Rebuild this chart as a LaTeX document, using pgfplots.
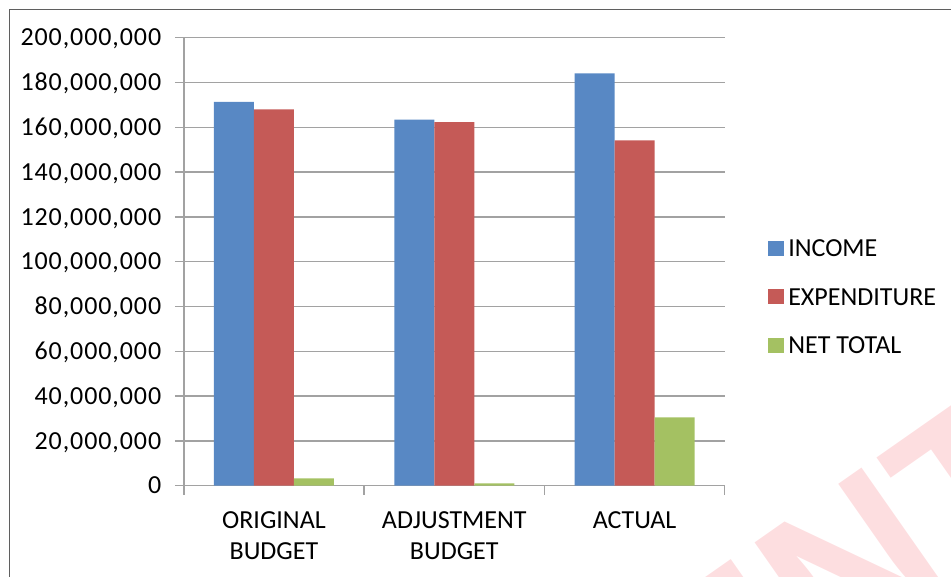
\documentclass[border=0pt]{standalone}
\usepackage{fontspec}
\setmainfont{Carlito}
\newfontfamily\markfont{Liberation Sans}
\usepackage{pgfplots}
\usepackage{pgfplotstable}
\pgfplotsset{compat=1.18}

\definecolor{incblue}{RGB}{88,136,196}
\definecolor{expred}{RGB}{197,90,87}
\definecolor{netgreen}{RGB}{164,193,98}
\definecolor{gridgray}{RGB}{162,162,162}
\definecolor{framegray}{RGB}{95,95,95}
\definecolor{markpink}{RGB}{253,222,224}

% budget figures per category: 0 original, 1 adjustment, 2 actual
\pgfplotstableread{
cat income expenditure net
0 171400000 168000000 3300000
1 163400000 162300000 1000000
2 184100000 154200000 30500000
}\budget

\begin{document}
\begin{tikzpicture}
\begin{scope}[x=0.75pt,y=0.75pt]
  \useasboundingbox (0,0) rectangle (951,576);
  \clip (0,0) rectangle (951,576);
  \node[anchor=base west, inner sep=0pt, rotate=35, text=markpink,
        font=\markfont\bfseries\fontsize{166.5}{166.5}\selectfont]
        at (780.2,-136) {INT};
  \draw[framegray, line width=1.1pt] (9.5,-20) -- (9.5,566.5) -- (1000,566.5);
\end{scope}
\begin{axis}[
  at={(137.85pt,67.725pt)}, anchor=south west,
  scale only axis, width=405.7pt, height=336pt,
  xmin=-0.5, xmax=2.5, ymin=0, ymax=200000000,
  axis x line*=bottom, axis y line*=left,
  axis line style={gridgray, line width=1.1pt},
  tick align=outside, major tick length=6.75pt,
  tick style={gridgray, line width=1.1pt},
  ymajorgrids, grid style={gridgray, line width=1.1pt},
  ytick={0,20000000,40000000,60000000,80000000,100000000,120000000,140000000,160000000,180000000,200000000},
  scaled y ticks=false,
  ticklabel style={font=\fontsize{19.5}{23.25}\selectfont},
  yticklabel style={/pgf/number format/.cd, fixed, precision=0, 1000 sep={,}, assume math mode=true,
    /tikz/.cd, anchor=east, inner sep=0pt, text height=12.3pt, text depth=0pt, xshift=-10pt,
    font=\fontsize{19.5}{23.25}\selectfont\addfontfeature{LetterSpace=3.5}},
  xtick={-0.5,0.5,1.5,2.5}, xticklabels={},
  extra x ticks={0,1,2},
  extra x tick labels={{ORIGINAL\\BUDGET},{ADJUSTMENT\\BUDGET},{ACTUAL}},
  extra x tick style={major tick length=0pt, tick style={draw=none},
    xticklabel style={align=center, anchor=north, inner sep=0pt, yshift=-19.5pt}},
  legend style={at={(1.080,0.4219)}, anchor=west, draw=none, fill=none, inner sep=0pt,
    row sep=23.8pt, font=\fontsize{19.5}{23.25}\selectfont,
    nodes={inner xsep=3pt, inner ysep=0pt, text height=12.6pt, text depth=0pt}},
  legend cell align=left,
  legend image code/.code={\fill[#1] (0pt,-5.6pt) rectangle (12pt,5.6pt);},
]
\addplot[ybar, bar width=30pt, bar shift=-30pt, fill=incblue, draw=none]
  table[x=cat, y=income] {\budget};
\addplot[ybar, bar width=30pt, bar shift=0pt, fill=expred, draw=none]
  table[x=cat, y=expenditure] {\budget};
\addplot[ybar, bar width=30pt, bar shift=30pt, fill=netgreen, draw=none]
  table[x=cat, y=net] {\budget};
\legend{INCOME, EXPENDITURE, NET TOTAL}
\end{axis}
\end{tikzpicture}
\end{document}
